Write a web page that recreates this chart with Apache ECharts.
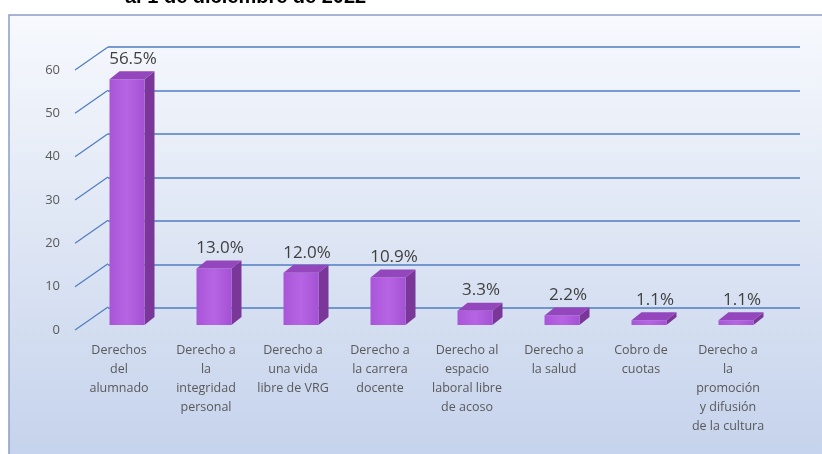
<!DOCTYPE html>
<html>
<head>
<meta charset="utf-8">
<script src="https://cdn.jsdelivr.net/npm/echarts@6/dist/echarts.min.js"></script>
<style>
  html, body { margin: 0; padding: 0; background: #fff; }
  #chart { width: 822px; height: 454px; }
</style>
</head>
<body>
<div id="chart"></div>
<script>
// datos del gráfico
var categories = [
  'Derechos\ndel\nalumnado',
  'Derecho a\nla\nintegridad\npersonal',
  'Derecho a\nuna vida\nlibre de VRG',
  'Derecho a\nla carrera\ndocente',
  'Derecho al\nespacio\nlaboral libre\nde acoso',
  'Derecho a\nla salud',
  'Cobro de\ncuotas',
  'Derecho a\nla\npromoción\ny difusión\nde la cultura'
];
var values = [56.5, 13.0, 12.0, 10.9, 3.3, 2.2, 1.1, 1.1];
var yTicks = [0, 10, 20, 30, 40, 50, 60];

(function () {
  var gridBlue = '#4f7cc0';
  var textGray = '#595959';
  var chart = echarts.init(document.getElementById('chart'), null, { renderer: 'canvas' });

  chart.setOption({
    animation: false,
    graphic: [
      {
        type: 'rect', z: -10,
        shape: { x: 9, y: 15, width: 840, height: 460 },
        style: {
          fill: new echarts.graphic.LinearGradient(0, 0, 0, 1, [
            { offset: 0, color: '#f7f9fd' },
            { offset: 1, color: '#c3d1eb' }
          ]),
          stroke: '#8c9cc6', lineWidth: 1.5
        }
      },
      {
        // título recortado en la parte superior
        type: 'text', z: -5, x: 125, y: -13,
        style: {
          text: 'al 1 de diciembre de 2022', font: 'bold 20px "Liberation Sans", Arial',
          fill: '#000', verticalAlign: 'top'
        }
      }
    ],
    grid: [
      // barras (cara frontal)
      { left: 83.5, right: 42.5, top: 64, bottom: 129 },
      // pared del fondo (líneas de cuadrícula)
      { left: 108, right: 22, top: 47, bottom: 146 },
      // etiquetas del eje Y (frente)
      { left: 75, width: 33, top: 70, bottom: 124 }
    ],
    xAxis: [
      {
        type: 'category', gridIndex: 0, data: categories,
        axisLine: { show: false }, axisTick: { show: false },
        axisLabel: {
          interval: 0, margin: 16, color: textGray, fontSize: 12.5, lineHeight: 19,
          fontFamily: '"Open Sans", sans-serif', padding: [0, 16, 0, 0]
        }
      },
      { type: 'value', gridIndex: 1, min: 0, max: 1, show: false },
      { type: 'value', gridIndex: 2, min: 0, max: 1, show: false }
    ],
    yAxis: [
      { type: 'value', gridIndex: 0, min: 0, max: 60, interval: 10, show: false },
      {
        type: 'value', gridIndex: 1, min: 0, max: 60, interval: 10,
        axisLine: { show: false }, axisTick: { show: false }, axisLabel: { show: false },
        splitLine: { show: true, lineStyle: { color: gridBlue, width: 1.6 } }
      },
      {
        type: 'value', gridIndex: 2, min: 0, max: 60, interval: 10,
        axisLine: { show: false }, axisTick: { show: false },
        splitLine: { show: false },
        axisLabel: { margin: 15, color: textGray, fontSize: 13, fontFamily: '"Open Sans", sans-serif' }
      }
    ],
    series: [
      {
        // líneas diagonales del piso lateral
        type: 'custom', xAxisIndex: 2, yAxisIndex: 2, silent: true,
        data: yTicks.map(function (t) { return [0, t]; }),
        renderItem: function (params, api) {
          var p = api.coord([0, api.value(1)]);
          return {
            type: 'line',
            shape: { x1: p[0], y1: p[1], x2: p[0] + 33, y2: p[1] - 23 },
            style: { stroke: gridBlue, lineWidth: 1.2 }
          };
        }
      },
      {
        // barras 3D
        type: 'custom', xAxisIndex: 0, yAxisIndex: 0,
        data: values.map(function (v, i) { return [i, v]; }),
        renderItem: function (params, api) {
          var v = api.value(1);
          var c = api.coord([api.value(0), v]);
          var base = api.coord([api.value(0), 0]);
          var w = 35, dx = 10, dy = -8;
          var x0 = c[0] - w / 2, x1 = c[0] + w / 2, yt = c[1], yb = base[1];
          return {
            type: 'group',
            children: [
              {
                type: 'polygon',
                shape: { points: [[x1, yt], [x1 + dx, yt + dy], [x1 + dx, yb + dy], [x1, yb]] },
                style: { fill: '#7b3699' }
              },
              {
                type: 'rect',
                shape: { x: x0, y: yt, width: w, height: yb - yt },
                style: {
                  fill: new echarts.graphic.LinearGradient(0, 0, 1, 0, [
                    { offset: 0, color: '#a955d8' },
                    { offset: 0.5, color: '#b764e4' },
                    { offset: 1, color: '#a452d4' }
                  ])
                }
              },
              {
                type: 'polygon',
                shape: { points: [[x0, yt], [x0 + dx, yt + dy], [x1 + dx, yt + dy], [x1, yt]] },
                style: { fill: '#9447bd' }
              },
              {
                type: 'text',
                style: {
                  text: v.toFixed(1) + '%', x: c[0] + 6, y: yt + dy - 12,
                  align: 'center', verticalAlign: 'middle',
                  font: '17px "Open Sans", sans-serif', fill: '#404040'
                }
              }
            ]
          };
        }
      }
    ]
  });
  window.addEventListener('resize', function () { chart.resize(); });
})();
</script>
</body>
</html>
